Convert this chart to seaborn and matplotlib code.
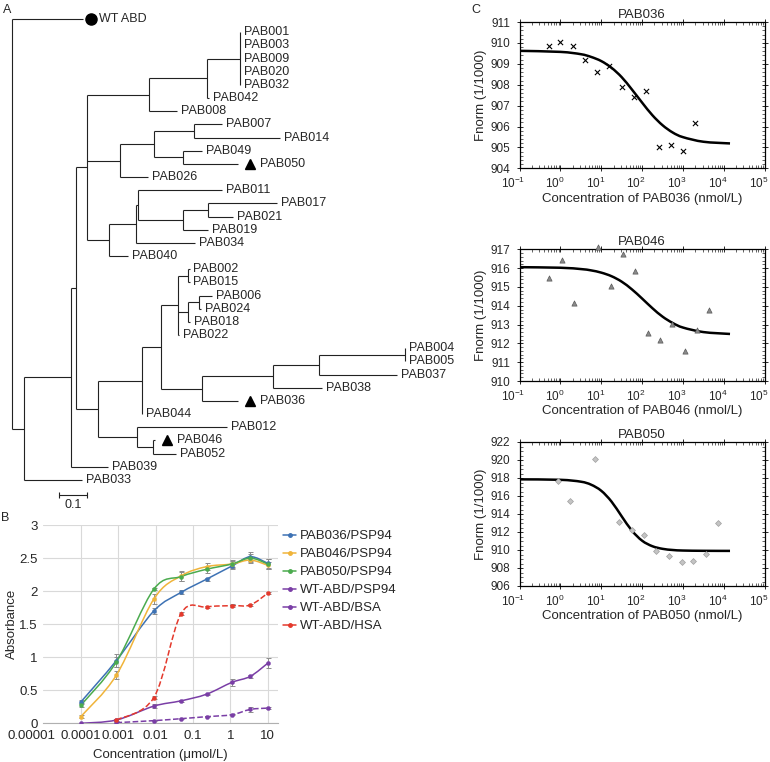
import numpy as np
import matplotlib
matplotlib.use('Agg')
import matplotlib.pyplot as plt
import seaborn as sns
from matplotlib.path import Path
from matplotlib.patches import PathPatch
from matplotlib.lines import Line2D
from matplotlib.ticker import MultipleLocator, AutoMinorLocator, NullLocator
from matplotlib.transforms import offset_copy, ScaledTranslation

# ---------------- Panel A : tree ----------------
# leaves top -> bottom
leaf_names = ['WT ABD', 'PAB001', 'PAB003', 'PAB009', 'PAB020', 'PAB032', 'PAB042', 'PAB008',
              'PAB007', 'PAB014', 'PAB049', 'PAB050', 'PAB026', 'PAB011', 'PAB017', 'PAB021',
              'PAB019', 'PAB034', 'PAB040', 'PAB002', 'PAB015', 'PAB006', 'PAB024', 'PAB018',
              'PAB022', 'PAB004', 'PAB005', 'PAB037', 'PAB038', 'PAB036', 'PAB044', 'PAB012',
              'PAB046', 'PAB052', 'PAB039', 'PAB033']
# distance of each tip from the root
leaf_depth = [0.255, 0.817, 0.817, 0.817, 0.817, 0.817, 0.705, 0.589,
              0.750, 0.958, 0.679, 0.809, 0.488, 0.750, 0.946, 0.791,
              0.702, 0.655, 0.416, 0.635, 0.635, 0.714, 0.676, 0.637,
              0.598, 1.406, 1.406, 1.375, 1.107, 0.809, 0.467, 0.768,
              0.510, 0.587, 0.345, 0.251]
leaf_marker = {'WT ABD': 'o', 'PAB050': '^', 'PAB036': '^', 'PAB046': '^'}

node_names = ['root', 'n24', 'n70', 'n76', 'n87', 'n149', 'n207', 'n240', 'n120', 'n154',
              'n194', 'n182', 'n109', 'nS', 'nR', 'n183', 'n208', 'n98', 'n141', 'n160',
              'n178', 'n188a', 'n188b', 'n199', 'n202', 'n273', 'n319', 'n405', 'n136', 'n152']
node_depth = [0.0, 0.045, 0.211, 0.230, 0.270, 0.491, 0.699, 0.815, 0.387, 0.508,
              0.652, 0.611, 0.349, 0.444, 0.450, 0.613, 0.702, 0.309, 0.464, 0.532,
              0.595, 0.631, 0.631, 0.669, 0.681, 0.934, 1.099, 1.405, 0.446, 0.504]
node_children = [('WT ABD', 'n24'), ('n70', 'PAB033'), ('n76', 'PAB039'), ('n87', 'n98'),
                 ('n149', 'n120', 'n109'), ('n207', 'PAB008'), ('n240', 'PAB042'),
                 ('PAB001', 'PAB003', 'PAB009', 'PAB020', 'PAB032'), ('n154', 'PAB026'),
                 ('n194', 'n182'), ('PAB007', 'PAB014'), ('PAB049', 'PAB050'),
                 ('nS', 'PAB040'), ('nR', 'PAB034'), ('PAB011', 'n183'), ('n208', 'PAB019'),
                 ('PAB017', 'PAB021'), ('n141', 'n136'), ('n160', 'PAB044'), ('n178', 'n202'),
                 ('n188a', 'n188b', 'PAB022'), ('PAB002', 'PAB015'), ('n199', 'PAB018'),
                 ('PAB006', 'PAB024'), ('n273', 'PAB036'), ('n319', 'PAB038'),
                 ('n405', 'PAB037'), ('PAB004', 'PAB005'), ('PAB012', 'n152'),
                 ('PAB046', 'PAB052')]

# ---------------- Panel B : ELISA ----------------
b_conc = [0.0001, 0.0009, 0.009, 0.048, 0.23, 1.1, 3.4, 10]
b_conc_wt = [0.0009, 0.009, 0.048, 0.23, 1.1, 3.4, 10]
pab036_abs = [0.32, 0.95, 1.70, 1.98, 2.18, 2.38, 2.52, 2.42]
pab046_abs = [0.10, 0.73, 1.88, 2.23, 2.37, 2.41, 2.47, 2.39]
pab050_abs = [0.27, 0.93, 2.03, 2.22, 2.33, 2.41, 2.50, 2.41]
wt_psp94_abs = [0.00, 0.05, 0.26, 0.34, 0.44, 0.62, 0.71, 0.91]
wt_bsa_abs = [0.01, 0.04, 0.07, 0.10, 0.13, 0.21, 0.23]
wt_hsa_abs = [0.05, 0.39, 1.66, 1.76, 1.78, 1.79, 1.97]
pab036_err = [0.03, 0.10, 0.05, 0.03, 0.02, 0.05, 0.07, 0.07]
pab046_err = [0.02, 0.06, 0.07, 0.08, 0.05, 0.05, 0.05, 0.05]
pab050_err = [0.03, 0.08, 0.02, 0.07, 0.05, 0.06, 0.06, 0.08]
wt_psp94_err = [0.01, 0.01, 0.03, 0.02, 0.01, 0.05, 0.02, 0.08]
wt_bsa_err = [0.01, 0.01, 0.01, 0.01, 0.01, 0.04, 0.02]
wt_hsa_err = [0.02, 0.02, 0.02, 0.02, 0.02, 0.02, 0.02]
b_labels = ['PAB036/PSP94', 'PAB046/PSP94', 'PAB050/PSP94', 'WT-ABD/PSP94', 'WT-ABD/BSA', 'WT-ABD/HSA']
b_colors = ['#3d72b4', '#f0b43a', '#4bab4e', '#7a3ea6', '#7a3ea6', '#e4392c']
b_xticks = [1e-5, 1e-4, 1e-3, 1e-2, 1e-1, 1, 10]
b_xtick_labels = ['0.00001', '0.0001', '0.001', '0.01', '0.1', '1', '10']
b_yticks = [0, 0.5, 1, 1.5, 2, 2.5, 3]
b_ytick_labels = ['0', '0.5', '1', '1.5', '2', '2.5', '3']

# ---------------- Panel C : MST ----------------
pab036_conc = [0.52, 1.0, 2.0, 4.1, 7.9, 15.5, 31.6, 63, 126, 257, 513, 1000, 2000]
pab036_fnorm = [909.85, 910.04, 909.85, 909.18, 908.6, 908.9, 907.9, 907.4, 907.7, 905.03, 905.1, 904.84, 906.15]
pab046_conc = [0.53, 1.08, 2.14, 8.5, 17, 34, 68, 138, 275, 550, 1100, 2150, 4350]
pab046_fnorm = [915.47, 916.45, 914.16, 917.12, 915.04, 916.75, 915.84, 912.57, 912.19, 913.05, 911.62, 912.73, 913.77]
pab050_conc = [0.87, 1.76, 7.1, 27.5, 55, 112, 224, 447, 930, 1790, 3600, 7300]
pab050_fnorm = [917.7, 915.48, 920.15, 913.07, 912.19, 911.67, 909.89, 909.33, 908.63, 908.74, 909.52, 913.0]
# fitted curves
fit_conc = [0.1, 1, 3.16, 5.62, 10, 17.8, 31.6, 56.2, 100, 178, 316, 562, 1000, 3160, 14100]
pab036_fit = [909.62, 909.57, 909.46, 909.33, 909.13, 908.81, 908.36, 907.77, 907.14, 906.54, 906.06, 905.71, 905.49, 905.27, 905.19]
pab046_fit = [916.05, 916.02, 915.95, 915.88, 915.76, 915.57, 915.28, 914.87, 914.38, 913.87, 913.42, 913.08, 912.84, 912.60, 912.50]
pab050_fit = [917.85, 917.80, 917.59, 917.26, 916.58, 915.38, 913.74, 912.15, 911.03, 910.42, 910.13, 910.00, 909.94, 909.91, 909.90]

# ---------------- style ----------------
sns.set_style('ticks')
plt.rcParams['font.family'] = ['Liberation Sans', 'DejaVu Sans']
plt.rcParams['mathtext.fontset'] = 'custom'
plt.rcParams['mathtext.rm'] = 'Liberation Sans'
plt.rcParams['mathtext.it'] = 'Liberation Sans:italic'
plt.rcParams['mathtext.default'] = 'regular'

W, H = 770, 762
fig = plt.figure(figsize=(W / 100, H / 100), dpi=100)


def box(l, t, r, b):
    # pixel box -> figure fraction
    return [l / W, 1 - b / H, (r - l) / W, (b - t) / H]


def shift_px(label, dx):
    # move a tick label sideways by dx pixels
    label.set_transform(label.get_transform() + ScaledTranslation(dx / 100, 0, fig.dpi_scale_trans))


def smooth_path(xs, ys):
    # smoothed line (like Excel) built in log-x space as cubic bezier path
    lx = np.log10(xs)
    ys = np.asarray(ys, dtype=float)
    n = len(xs)
    verts = [(xs[0], ys[0])]
    codes = [Path.MOVETO]
    for i in range(n - 1):
        p0 = max(i - 1, 0)
        p3 = min(i + 2, n - 1)
        c1 = (lx[i] + (lx[i + 1] - lx[p0]) / 6, ys[i] + (ys[i + 1] - ys[p0]) / 6)
        c2 = (lx[i + 1] - (lx[p3] - lx[i]) / 6, ys[i + 1] - (ys[p3] - ys[i]) / 6)
        verts += [(10 ** c1[0], c1[1]), (10 ** c2[0], c2[1]), (xs[i + 1], ys[i + 1])]
        codes += [Path.CURVE4] * 3
    return Path(verts, codes)


# ---------------- A ----------------
axa = fig.add_axes(box(0, 0, 465, 515))
axa.set_xlim(-11.7 / 280, (465 - 11.7) / 280)
axa.set_ylim((515 - 19) / 13.17, -19 / 13.17)
axa.axis('off')

leaf_index = {n: i for i, n in enumerate(leaf_names)}
depth = dict(zip(leaf_names, leaf_depth))
depth.update(zip(node_names, node_depth))
kids = dict(zip(node_names, node_children))
ypos = {}


def place(n):
    if n in leaf_index:
        ypos[n] = leaf_index[n]
    else:
        ys = [place(c) for c in kids[n]]
        ypos[n] = (min(ys) + max(ys)) / 2
    return ypos[n]


place('root')
tree_kw = dict(color='#222222', lw=0.8, solid_capstyle='butt')
for n in node_names:
    ys = [ypos[c] for c in kids[n]]
    axa.plot([depth[n]] * 2, [min(ys), max(ys)], **tree_kw)
    for c in kids[n]:
        axa.plot([depth[n], depth[c]], [ypos[c]] * 2, **tree_kw)

for n in leaf_names:
    m = leaf_marker.get(n)
    if m is None:
        axa.annotate(n, (depth[n], ypos[n]), xytext=(4, 0), textcoords='offset pixels',
                     va='center', ha='left', fontsize=9)
    else:
        off = 8 if m == 'o' else 12
        lab = 16 if m == 'o' else 22
        tr = offset_copy(axa.transData, fig=fig, x=off, y=0, units='dots')
        axa.plot(depth[n], ypos[n], marker=m, ms=8 if m == 'o' else 6.5, color='black',
                 transform=tr, clip_on=False)
        axa.annotate(n, (depth[n], ypos[n]), xytext=(lab, 0), textcoords='offset pixels',
                     va='center', ha='left', fontsize=9)

# scale bar
sb0 = (59.3 - 11.7) / 280
sby = (495 - 19) / 13.17
axa.plot([sb0, sb0 + 0.1], [sby, sby], **tree_kw)
axa.plot([sb0, sb0], [sby - 0.25, sby + 0.25], **tree_kw)
axa.plot([sb0 + 0.1, sb0 + 0.1], [sby - 0.25, sby + 0.25], **tree_kw)
axa.text(sb0 + 0.05, sby + 0.3, '0.1', ha='center', va='top', fontsize=9)

# ---------------- B ----------------
axb = fig.add_axes(box(43.3, 525, 278.3, 723.3))
axb.set_xscale('log')
axb.set_xlim(1e-5, 10 ** 1.28)
axb.set_ylim(0, 3)
axb.set_axisbelow(True)
for t in b_xticks[1:]:
    axb.axvline(t, color='#d9d9d9', lw=0.8, zorder=0)
axb.yaxis.grid(True, color='#d9d9d9', lw=0.8)
axb.xaxis.grid(False)

b_series = [(b_conc, pab036_abs, pab036_err, '-'), (b_conc, pab046_abs, pab046_err, '-'),
            (b_conc, pab050_abs, pab050_err, '-'), (b_conc, wt_psp94_abs, wt_psp94_err, '-'),
            (b_conc_wt, wt_bsa_abs, wt_bsa_err, '--'), (b_conc_wt, wt_hsa_abs, wt_hsa_err, '--')]
handles = []
for (xs, ys, es, ls), col, lab in zip(b_series, b_colors, b_labels):
    axb.add_patch(PathPatch(smooth_path(xs, ys), fill=False, edgecolor=col, lw=1.1,
                            linestyle=ls, zorder=3))
    axb.errorbar(xs, ys, yerr=es, fmt='none', ecolor='#8c8c8c', elinewidth=0.7,
                 capsize=1.8, capthick=0.7, zorder=2)
    sns.scatterplot(x=xs, y=ys, color=col, edgecolor=col, s=9, marker='o', ax=axb,
                    zorder=4, legend=False)
    handles.append(Line2D([], [], color=col, lw=1.1, marker='o', ms=2.5))

axb.set_xticks(b_xticks)
axb.set_xticklabels(b_xtick_labels)
axb.xaxis.set_minor_locator(NullLocator())
axb.set_yticks(b_yticks)
axb.set_yticklabels(b_ytick_labels)
axb.tick_params(length=0, labelsize=9.5)
axb.tick_params(axis='x', pad=5)
axb.tick_params(axis='y', pad=4)
shift_px(axb.get_xticklabels()[0], -12)
for s in ['left', 'top', 'right']:
    axb.spines[s].set_visible(False)
axb.spines['bottom'].set_color('#b0b0b0')
axb.spines['bottom'].set_linewidth(0.8)
axb.set_xlabel('Concentration (\u03bcmol/L)', fontsize=9.5, labelpad=5)
axb.set_ylabel('Absorbance', fontsize=9.5, labelpad=1)
axb.legend(handles, b_labels, loc='upper left', bbox_to_anchor=(283 / W, 1 - 530 / H),
           bbox_transform=fig.transFigure, frameon=False, fontsize=9.5, handlelength=1.0,
           handletextpad=0.25, labelspacing=0.44, borderpad=0, borderaxespad=0)

# ---------------- C ----------------
c_panels = [
    (box(519.5, 22, 764.8, 168.3), 'PAB036', pab036_conc, pab036_fnorm, pab036_fit, (904, 911), 1, 5,
     dict(marker='x', s=14, color='black', linewidth=0.8)),
    (box(519.5, 249.3, 764.8, 381), 'PAB046', pab046_conc, pab046_fnorm, pab046_fit, (910, 917), 1, 5,
     dict(marker='^', s=14, color='#8a8a8a', edgecolor='#5a5a5a', linewidth=0.5)),
    (box(519.5, 442, 764.8, 586), 'PAB050', pab050_conc, pab050_fnorm, pab050_fit, (906, 922), 2, 4,
     dict(marker='D', s=9, color='#c4c4c4', edgecolor='#a0a0a0', linewidth=0.5)),
]
for rect, name, xs, ys, fit, ylim, ystep, yminor, mk in c_panels:
    ax = fig.add_axes(rect)
    ax.set_xscale('log')
    ax.set_xlim(0.1, 1e5)
    ax.set_ylim(*ylim)
    ax.add_patch(PathPatch(smooth_path(fit_conc, fit), fill=False, edgecolor='black', lw=1.8, zorder=3))
    sns.scatterplot(x=xs, y=ys, ax=ax, legend=False, zorder=4, clip_on=False, **mk)
    ax.set_xticks([1e-1, 1e0, 1e1, 1e2, 1e3, 1e4, 1e5])
    ax.yaxis.set_major_locator(MultipleLocator(ystep))
    ax.yaxis.set_minor_locator(AutoMinorLocator(yminor))
    ax.tick_params(which='both', top=True, right=True, labelsize=8.5, width=0.7)
    ax.tick_params(which='major', direction='inout', length=5)
    ax.tick_params(which='minor', direction='in', length=2.5, width=0.5)
    ax.tick_params(axis='y', pad=4)
    ax.tick_params(axis='x', pad=3)
    fig.canvas.draw()
    for lb in ax.get_xticklabels():
        shift_px(lb, -6)
    for s in ax.spines.values():
        s.set_linewidth(0.9)
        s.set_color('black')
    ax.set_title(name, fontsize=9.5, pad=3)
    ax.set_xlabel('Concentration of %s (nmol/L)' % name, fontsize=9.5, labelpad=1)
    ax.set_ylabel('Fnorm (1/1000)', fontsize=9.5, labelpad=2.5)

# panel letters
fig.text(7 / W, 1 - 10 / H, 'A', ha='center', va='center', fontsize=9)
fig.text(5 / W, 1 - 518 / H, 'B', ha='center', va='center', fontsize=9)
fig.text(476 / W, 1 - 10 / H, 'C', ha='center', va='center', fontsize=9)

fig.savefig('out.png', dpi=100)
